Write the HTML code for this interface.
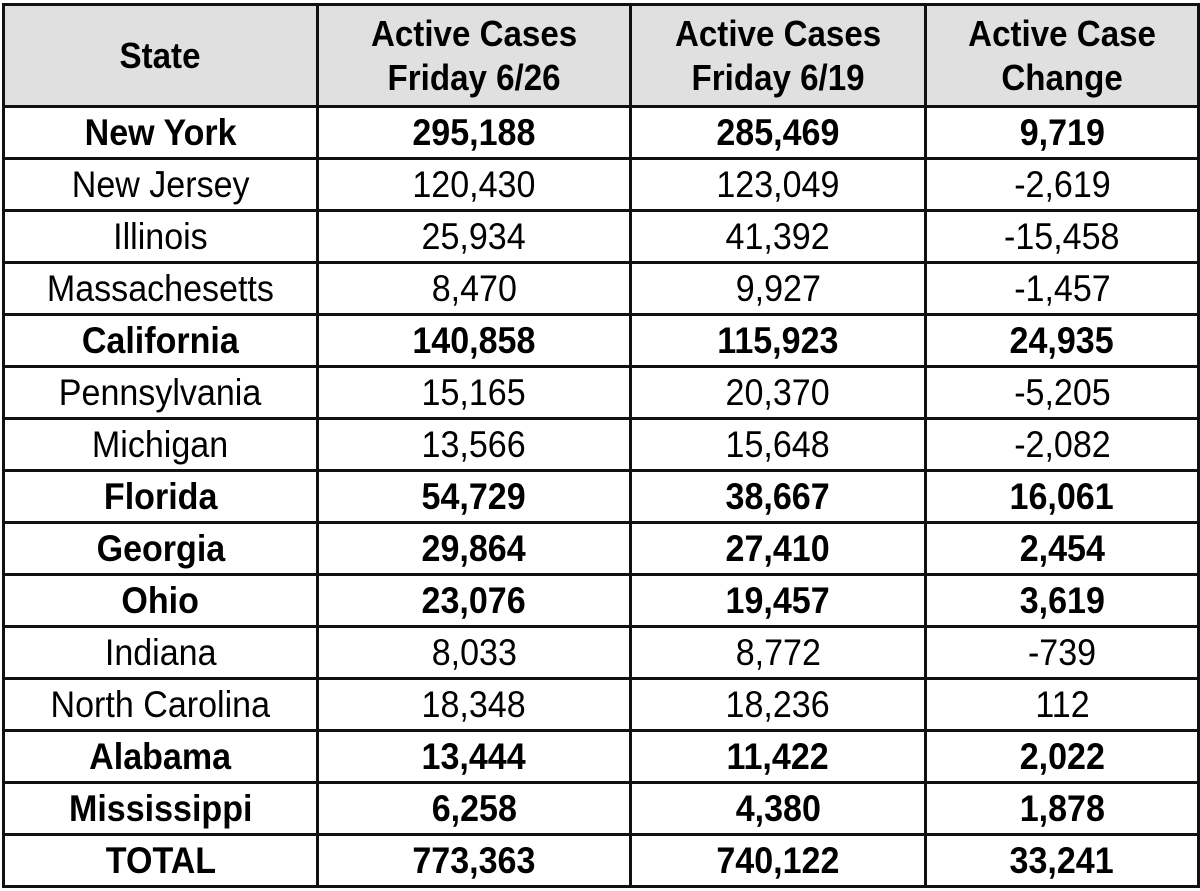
<!DOCTYPE html>
<html><head><meta charset="utf-8"><style>
html,body{margin:0;padding:0;background:#fff;width:1200px;height:891px;overflow:hidden}
table{position:absolute;left:2px;top:3px;border-collapse:collapse;font-family:"Liberation Sans",Arial,sans-serif;color:#000}
td{border:3px solid #111;text-align:center;vertical-align:middle;padding:0;height:49px;font-size:37px;line-height:38px}
td span{display:inline-block;white-space:nowrap;transform:scaleX(.92)}
tr.h td{background:#e0e0e0;height:99px;font-weight:bold;font-size:36px;line-height:44px}
tr.b td{font-weight:bold}
</style></head><body>
<table>
<colgroup><col style="width:314px"><col style="width:313px"><col style="width:295px"><col style="width:273px"></colgroup>
<tr class="h"><td><span>State</span></td><td><span>Active Cases<br>Friday 6/26</span></td><td><span>Active Cases<br>Friday 6/19</span></td><td><span>Active Case<br>Change</span></td></tr>
<tr class="b"><td><span>New York</span></td><td><span>295,188</span></td><td><span>285,469</span></td><td><span>9,719</span></td></tr>
<tr><td><span>New Jersey</span></td><td><span>120,430</span></td><td><span>123,049</span></td><td><span>-2,619</span></td></tr>
<tr><td><span>Illinois</span></td><td><span>25,934</span></td><td><span>41,392</span></td><td><span>-15,458</span></td></tr>
<tr><td><span>Massachesetts</span></td><td><span>8,470</span></td><td><span>9,927</span></td><td><span>-1,457</span></td></tr>
<tr class="b"><td><span>California</span></td><td><span>140,858</span></td><td><span>115,923</span></td><td><span>24,935</span></td></tr>
<tr><td><span>Pennsylvania</span></td><td><span>15,165</span></td><td><span>20,370</span></td><td><span>-5,205</span></td></tr>
<tr><td><span>Michigan</span></td><td><span>13,566</span></td><td><span>15,648</span></td><td><span>-2,082</span></td></tr>
<tr class="b"><td><span>Florida</span></td><td><span>54,729</span></td><td><span>38,667</span></td><td><span>16,061</span></td></tr>
<tr class="b"><td><span>Georgia</span></td><td><span>29,864</span></td><td><span>27,410</span></td><td><span>2,454</span></td></tr>
<tr class="b"><td><span>Ohio</span></td><td><span>23,076</span></td><td><span>19,457</span></td><td><span>3,619</span></td></tr>
<tr><td><span>Indiana</span></td><td><span>8,033</span></td><td><span>8,772</span></td><td><span>-739</span></td></tr>
<tr><td><span>North Carolina</span></td><td><span>18,348</span></td><td><span>18,236</span></td><td><span>112</span></td></tr>
<tr class="b"><td><span>Alabama</span></td><td><span>13,444</span></td><td><span>11,422</span></td><td><span>2,022</span></td></tr>
<tr class="b"><td><span>Mississippi</span></td><td><span>6,258</span></td><td><span>4,380</span></td><td><span>1,878</span></td></tr>
<tr class="b"><td><span>TOTAL</span></td><td><span>773,363</span></td><td><span>740,122</span></td><td><span>33,241</span></td></tr>
</table>
</body></html>
